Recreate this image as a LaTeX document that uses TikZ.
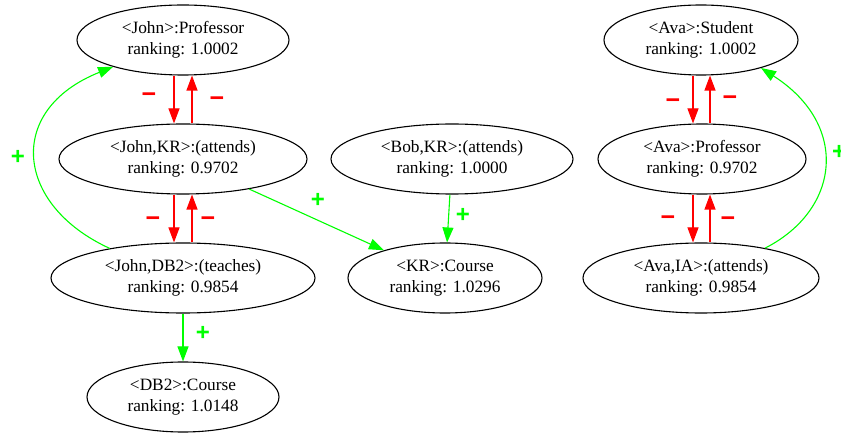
\documentclass[tikz,border=0pt]{standalone}
\usepackage{fontspec}
\setmainfont{Liberation Serif}
\newfontfamily\lblfont{Liberation Sans}
\usetikzlibrary{shapes.geometric,arrows.meta}
\begin{document}
\begin{tikzpicture}[x=1pt,y=-1pt,
  ent/.style={draw, ellipse, line width=1.1pt, inner sep=0pt, align=center,
    font=\fontsize{17.3}{21}\selectfont},
  negedge/.style={draw=red, line width=1.1pt, -{Triangle[length=15pt,width=11pt]}},
  posedge/.style={draw=green, line width=1.1pt, -{Triangle[length=15pt,width=11pt]}},
  neglbl/.style={text=red, inner sep=0pt, font=\lblfont\bfseries\fontsize{25}{25}\selectfont},
  poslbl/.style={text=green, inner sep=0pt, font=\lblfont\bfseries\fontsize{24}{24}\selectfont}]
\useasboundingbox (0,0) rectangle (841,435);
% nodes
\node[ent, minimum width=212pt, minimum height=70pt] (jp) at (183,40) {<John>:Professor\\ranking: 1.0002};
\node[ent, minimum width=248pt, minimum height=70pt] (jkr) at (183,159) {<John,KR>:(attends)\\ranking: 0.9702};
\node[ent, minimum width=264pt, minimum height=70pt] (jdb) at (183,278) {<John,DB2>:(teaches)\\ranking: 0.9854};
\node[ent, minimum width=192pt, minimum height=70pt] (db2) at (183,397) {<DB2>:Course\\ranking: 1.0148};
\node[ent, minimum width=242pt, minimum height=70pt] (bob) at (452,159) {<Bob,KR>:(attends)\\ranking: 1.0000};
\node[ent, minimum width=194pt, minimum height=70pt] (kr) at (445,278) {<KR>:Course\\ranking: 1.0296};
\node[ent, minimum width=194pt, minimum height=70pt] (as) at (701,40) {<Ava>:Student\\ranking: 1.0002};
\node[ent, minimum width=208pt, minimum height=70pt] (ap) at (702,159) {<Ava>:Professor\\ranking: 0.9702};
\node[ent, minimum width=236pt, minimum height=70pt] (aia) at (701,278) {<Ava,IA>:(attends)\\ranking: 0.9854};
% red edges
\draw[negedge] ([xshift=-9pt]jp.south) -- ([xshift=-9pt]jkr.north);
\draw[negedge] ([xshift=9pt]jkr.north) -- ([xshift=9pt]jp.south);
\draw[negedge] ([xshift=-9pt]jkr.south) -- ([xshift=-9pt]jdb.north);
\draw[negedge] ([xshift=9pt]jdb.north) -- ([xshift=9pt]jkr.south);
\draw[negedge] ([xshift=-8pt]as.south) -- ([xshift=-9pt]ap.north);
\draw[negedge] ([xshift=8pt]ap.north) -- ([xshift=9pt]as.south);
\draw[negedge] ([xshift=-9pt]ap.south) -- ([xshift=-8pt]aia.north);
\draw[negedge] ([xshift=9pt]aia.north) -- ([xshift=8pt]ap.south);
% green edges
\draw[posedge] (jkr) -- (kr);
\draw[posedge] (bob) -- (kr);
\draw[posedge] (jdb) -- (db2);
\draw[posedge] (jdb.158) .. controls (15,205) and (5,110) .. (jp.201);
\draw[posedge] (aia.25) .. controls (840,210) and (850,125) .. (as.335);
% labels
\node[neglbl] (m1) at (149,98) {−};
\node[neglbl] (m2) at (217,102) {−};
\node[neglbl] (m3) at (153,222) {−};
\node[neglbl] (m4) at (208,222) {−};
\node[neglbl] (m5) at (673,104) {−};
\node[neglbl] (m6) at (730,101) {−};
\node[neglbl] (m7) at (668,221) {−};
\node[neglbl] (m8) at (728,222) {−};
\node[poslbl] (p1) at (318,200) {+};
\node[poslbl] (p2) at (463,215) {+};
\node[poslbl] (p3) at (203,333) {+};
\node[poslbl] (p4) at (18,157) {+};
\node[poslbl] (p5) at (839,152) {+};
\end{tikzpicture}
\end{document}
